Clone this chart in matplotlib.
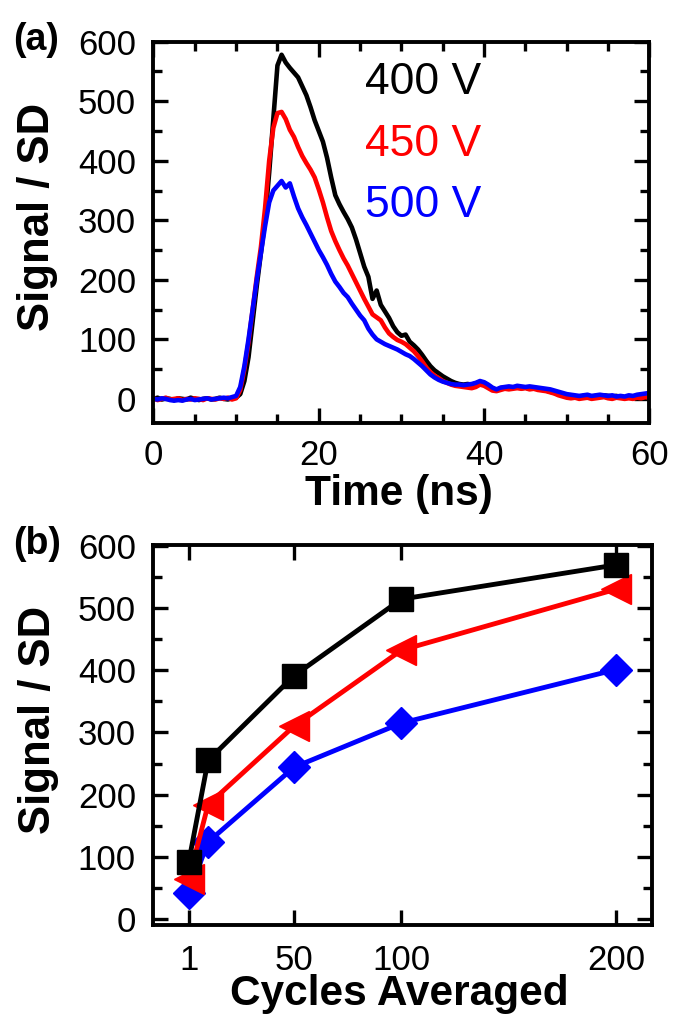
import numpy as np
import matplotlib
matplotlib.use("Agg")
import matplotlib.pyplot as plt

# ---- panel (a): signal / SD traces vs time, sampled every 0.5 ns ----
dt_ns = 0.5
trace_400V = [
    0, 2, -1, 1, 0, -2, 1, 0, -1, 2, 0, -2, 0, 1, -1, 0, 2, 0, -1, 1, 2,
    8, 30, 70, 130, 190, 245, 300, 380, 470, 560, 578, 565, 556, 548, 540,
    525, 510, 490, 468, 450, 432, 405, 372, 342, 327, 314, 302, 288, 268,
    245, 222, 205, 168, 182, 158, 147, 136, 122, 112, 106, 108, 96, 90, 83,
    74, 64, 55, 48, 43, 38, 34, 30, 27, 25, 24, 25, 24, 26, 28, 27, 22, 18,
    14, 18, 19, 17, 19, 20, 18, 19, 17, 18, 17, 16, 14, 12, 10, 8, 6, 4, 3,
    4, 3, 5, 4, 3, 5, 4, 6, 5, 4, 5, 3, 2, 3, 2, 4, 5, 6, 7,
]
trace_450V = [
    1, -2, 0, 2, -1, 0, 1, -2, 0, -1, 1, 0, -2, 1, 0, -1, 1, 0, 2, -1, 1,
    15, 50, 95, 150, 205, 255, 320, 400, 455, 480, 482, 470, 452, 440, 423,
    408, 396, 385, 372, 352, 330, 305, 282, 265, 250, 236, 224, 210, 196,
    182, 168, 155, 142, 137, 132, 120, 110, 104, 99, 96, 92, 86, 80, 72, 63,
    53, 45, 39, 35, 30, 27, 24, 22, 21, 20, 19, 18, 20, 24, 22, 18, 14, 13,
    15, 17, 16, 17, 18, 17, 18, 16, 17, 15, 14, 13, 11, 9, 6, 4, 2, 1, 2, 0,
    1, 2, 0, 1, 2, 3, 1, 0, 2, 1, 0, 1, 0, 2, 1, 3, 2,
]
trace_500V = [
    0, -1, 1, 0, -2, -3, -2, -3, -1, 0, -2, -1, 0, 1, -1, 0, 1, 2, 1, 3, 5,
    20, 55, 100, 150, 200, 245, 290, 330, 350, 358, 366, 355, 362, 340, 320,
    305, 292, 278, 264, 250, 238, 225, 210, 197, 188, 178, 171, 160, 150,
    140, 132, 118, 108, 100, 96, 92, 89, 86, 83, 79, 75, 72, 67, 61, 55, 48,
    41, 36, 32, 29, 27, 25, 24, 24, 23, 24, 25, 27, 30, 28, 24, 19, 16, 19,
    20, 21, 20, 22, 21, 20, 21, 20, 19, 18, 17, 16, 14, 12, 10, 8, 7, 6, 5,
    6, 7, 5, 6, 7, 6, 5, 6, 4, 5, 4, 6, 5, 7, 8, 9, 10,
]
trace_labels = ["400 V", "450 V", "500 V"]

# ---- panel (b): peak signal / SD vs number of averaged cycles ----
cycles = [1, 10, 50, 100, 200]
snr_400V = [92, 255, 391, 514, 569]
snr_450V = [64, 184, 310, 432, 530]
snr_500V = [42, 124, 244, 315, 401]
cycle_ticks = [1, 50, 100, 200]

colors = ["#000000", "#ff0000", "#0000ff"]

plt.rcParams["font.family"] = ["Liberation Sans", "DejaVu Sans"]
plt.rcParams["axes.linewidth"] = 2.8

fig = plt.figure(figsize=(6.73, 10.19), dpi=100)
ax_a = fig.add_axes([0.2280, 0.5846, 0.737, 0.3745])
ax_b = fig.add_axes([0.2278, 0.0918, 0.7405, 0.3734])

TICK_FS = 25
XLABEL_FS = 30.5
YLABEL_FS = 31.5


def style_axes(ax, xpad):
    ax.tick_params(which="both", direction="in", top=True, right=True,
                   width=2.4, labelsize=TICK_FS)
    ax.tick_params(which="major", length=11)
    ax.tick_params(which="minor", length=6.5)
    ax.tick_params(axis="y", pad=12.5)
    ax.tick_params(axis="x", pad=xpad)


# (a) time traces
for vals, c in zip([trace_400V, trace_450V, trace_500V], colors):
    t = np.arange(len(vals)) * dt_ns
    ax_a.plot(t, vals, color=c, lw=3.3, solid_joinstyle="round")
ax_a.set_xlim(0, 60)
ax_a.set_ylim(-41, 600)
ax_a.set_xticks([0, 20, 40, 60])
ax_a.set_xticks(np.arange(0, 61, 5), minor=True)
ax_a.set_yticks(np.arange(0, 601, 100))
ax_a.set_yticks(np.arange(50, 600, 100), minor=True)
style_axes(ax_a, 11)
ax_a.set_xlabel("Time (ns)", fontsize=XLABEL_FS, fontweight="bold")
ax_a.set_ylabel("Signal / SD", fontsize=YLABEL_FS, fontweight="bold")
ax_a.xaxis.set_label_coords(0.495, -0.132)
ax_a.yaxis.set_label_coords(-0.1915, 0.541)
for lbl, c, yv in zip(trace_labels, colors, [531, 427, 324]):
    ax_a.text(25.6, yv, lbl, color=c, fontsize=32, va="center", ha="left")

# (b) averaging curves, black drawn last so it sits on top
markers = ["s", "<", "D"]
msizes = [17.5, 22, 16.5]
series = [snr_400V, snr_450V, snr_500V]
for i in (2, 1, 0):
    ax_b.plot(cycles, series[i], color=colors[i], lw=3.5, marker=markers[i],
              ms=msizes[i], mec=colors[i], mfc=colors[i])
ax_b.set_xlim(-15.5, 216.5)
ax_b.set_ylim(-10, 601)
ax_b.set_xticks(cycle_ticks)
ax_b.set_yticks(np.arange(0, 601, 100))
ax_b.set_yticks(np.arange(50, 600, 100), minor=True)
style_axes(ax_b, 13)
ax_b.set_xlabel("Cycles Averaged", fontsize=XLABEL_FS, fontweight="bold")
ax_b.set_ylabel("Signal / SD", fontsize=YLABEL_FS, fontweight="bold")
ax_b.xaxis.set_label_coords(0.493, -0.128)
ax_b.yaxis.set_label_coords(-0.189, 0.540)

fig.text(13 / 673, 1 - 40 / 1019, "(a)", fontsize=27, fontweight="bold",
         va="center", ha="left")
fig.text(13 / 673, 1 - 544 / 1019, "(b)", fontsize=27, fontweight="bold",
         va="center", ha="left")

fig.savefig("out.png", dpi=100)
